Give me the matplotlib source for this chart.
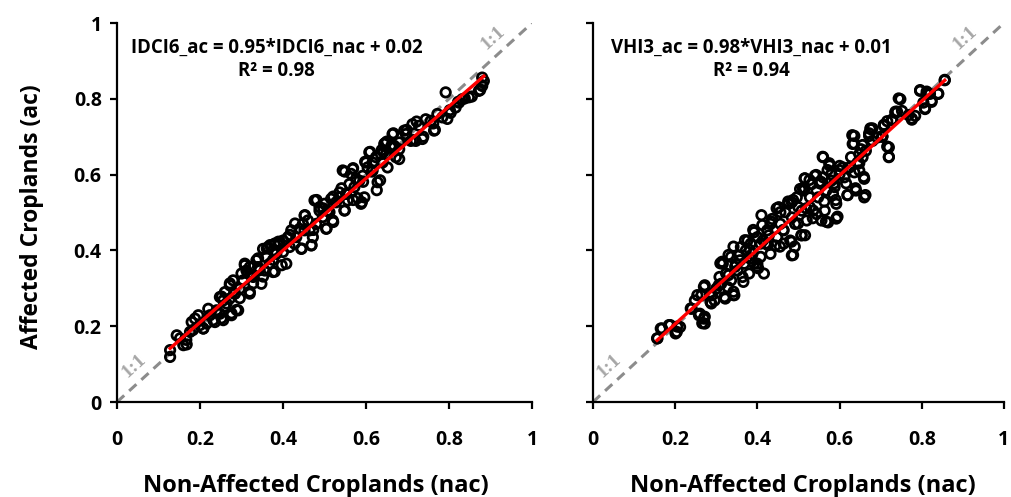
import matplotlib
matplotlib.use("Agg")
import matplotlib.pyplot as plt
import numpy as np

# ticks
TICKS = [0, 0.2, 0.4, 0.6, 0.8, 1.0]
TICK_LABELS = ["0", "0.2", "0.4", "0.6", "0.8", "1"]

# IDCI6 panel: non-affected (x) vs affected (y)
idci_nac = [0.128, 0.128, 0.152, 0.168, 0.180, 0.196, 0.176, 0.208, 0.216, 0.220,
            0.236, 0.248, 0.256, 0.276, 0.292, 0.272, 0.248, 0.264, 0.272, 0.280,
            0.296, 0.320, 0.312, 0.308, 0.328, 0.336, 0.348, 0.352, 0.356, 0.368,
            0.376, 0.380, 0.384, 0.400, 0.408, 0.416, 0.420, 0.432, 0.444, 0.448,
            0.452, 0.464, 0.468, 0.472, 0.476, 0.488, 0.496, 0.504, 0.512, 0.516,
            0.520, 0.536, 0.544, 0.548, 0.556, 0.564, 0.568, 0.576, 0.580, 0.588,
            0.596, 0.600, 0.608, 0.616, 0.628, 0.636, 0.644, 0.652, 0.660, 0.664,
            0.672, 0.680, 0.680, 0.692, 0.712, 0.720, 0.736, 0.756, 0.764, 0.784,
            0.792, 0.796, 0.804, 0.824, 0.848, 0.872, 0.880, 0.880, 0.884,
            0.160, 0.167, 0.183, 0.208, 0.232, 0.240, 0.252, 0.252, 0.260, 0.272,
            0.276, 0.288, 0.284, 0.296, 0.308, 0.316, 0.320, 0.328, 0.340, 0.344,
            0.352, 0.361, 0.376, 0.380, 0.389, 0.397,
            0.369, 0.389, 0.417, 0.429, 0.445, 0.453, 0.469, 0.473, 0.481, 0.497,
            0.505, 0.521, 0.521, 0.541, 0.549, 0.549, 0.569, 0.569, 0.590, 0.593,
            0.598, 0.610, 0.614, 0.626, 0.634, 0.642, 0.650,
            0.638, 0.646, 0.666, 0.662, 0.698, 0.714, 0.722, 0.738, 0.762, 0.766,
            0.802, 0.822, 0.838, 0.855, 0.875, 0.879,
            0.144, 0.188, 0.200, 0.224, 0.240, 0.256, 0.260, 0.284, 0.300, 0.304,
            0.320, 0.324, 0.340, 0.360, 0.364, 0.376, 0.392, 0.400, 0.412, 0.428,
            0.440, 0.452, 0.460, 0.480, 0.488, 0.500, 0.508, 0.528, 0.536, 0.552,
            0.560, 0.572, 0.584, 0.592, 0.604, 0.616, 0.624, 0.640, 0.648, 0.668,
            0.680, 0.696, 0.708, 0.728, 0.744, 0.772, 0.816, 0.832]
idci_ac = [0.119, 0.137, 0.168, 0.152, 0.211, 0.229, 0.185, 0.194, 0.207, 0.246,
           0.211, 0.233, 0.216, 0.229, 0.242, 0.273, 0.277, 0.260, 0.308, 0.321,
           0.299, 0.286, 0.347, 0.365, 0.330, 0.374, 0.312, 0.404, 0.347, 0.365,
           0.343, 0.418, 0.391, 0.426, 0.365, 0.409, 0.453, 0.435, 0.404, 0.470,
           0.492, 0.453, 0.413, 0.435, 0.532, 0.514, 0.488, 0.457, 0.501, 0.536,
           0.479, 0.553, 0.611, 0.505, 0.532, 0.602, 0.615, 0.589, 0.538, 0.523,
           0.540, 0.632, 0.659, 0.611, 0.580, 0.654, 0.681, 0.619, 0.672, 0.707,
           0.646, 0.641, 0.667, 0.716, 0.733, 0.689, 0.694, 0.742, 0.716, 0.751,
           0.817, 0.747, 0.763, 0.790, 0.804, 0.821, 0.834, 0.856, 0.847,
           0.150, 0.164, 0.190, 0.194, 0.216, 0.238, 0.221, 0.278, 0.252, 0.313,
           0.234, 0.243, 0.286, 0.274, 0.361, 0.339, 0.291, 0.313, 0.379, 0.348,
           0.331, 0.405, 0.375, 0.344, 0.414, 0.361,
           0.414, 0.423, 0.441, 0.471, 0.405, 0.493, 0.414, 0.454, 0.533, 0.511,
           0.458, 0.542, 0.475, 0.564, 0.506, 0.608, 0.617, 0.533, 0.527, 0.581,
           0.634, 0.660, 0.608, 0.559, 0.585, 0.660, 0.687,
           0.665, 0.683, 0.709, 0.678, 0.718, 0.691, 0.740, 0.700, 0.735, 0.718,
           0.770, 0.792, 0.801, 0.806, 0.823, 0.836,
           0.176, 0.220, 0.203, 0.229, 0.242, 0.268, 0.290, 0.286, 0.339, 0.321,
           0.356, 0.334, 0.356, 0.382, 0.409, 0.400, 0.418, 0.396, 0.435, 0.418,
           0.457, 0.453, 0.479, 0.470, 0.505, 0.523, 0.505, 0.527, 0.540, 0.549,
           0.575, 0.567, 0.584, 0.597, 0.619, 0.632, 0.646, 0.632, 0.654, 0.676,
           0.685, 0.707, 0.689, 0.729, 0.746, 0.760, 0.777, 0.799]

# VHI3 panel
vhi_nac = [0.156, 0.168, 0.188, 0.204, 0.212, 0.240, 0.260, 0.272, 0.272, 0.264,
           0.272, 0.288, 0.300, 0.308, 0.316, 0.320, 0.336, 0.336, 0.344, 0.352,
           0.360, 0.368, 0.376, 0.380, 0.388, 0.392, 0.400, 0.408, 0.412, 0.416,
           0.424, 0.432, 0.436, 0.448, 0.452, 0.456, 0.464, 0.468, 0.480, 0.484,
           0.484, 0.492, 0.500, 0.504, 0.508, 0.516, 0.516, 0.520, 0.528, 0.536,
           0.540, 0.544, 0.552, 0.556, 0.560, 0.564, 0.572, 0.576, 0.580, 0.584,
           0.592, 0.592, 0.600, 0.608, 0.616, 0.620, 0.628, 0.632, 0.636, 0.640,
           0.648, 0.652, 0.656, 0.660, 0.660, 0.672, 0.676, 0.704, 0.708, 0.720,
           0.720, 0.728, 0.736, 0.748, 0.776, 0.796, 0.808, 0.812, 0.824, 0.840,
           0.856,
           0.157, 0.165, 0.185, 0.205, 0.201, 0.238, 0.258, 0.266, 0.270, 0.270,
           0.254, 0.286, 0.290, 0.306, 0.314, 0.322, 0.330, 0.342, 0.346, 0.366,
           0.382, 0.402,
           0.310, 0.330, 0.342, 0.342, 0.358, 0.370, 0.382, 0.390, 0.399, 0.410,
           0.414, 0.426, 0.434, 0.447, 0.455, 0.463, 0.475, 0.483, 0.487, 0.491,
           0.499, 0.507, 0.515, 0.519, 0.527, 0.535, 0.551, 0.563, 0.567,
           0.487, 0.511, 0.515, 0.543, 0.555, 0.559, 0.571, 0.575, 0.587, 0.591,
           0.595, 0.599, 0.619, 0.631, 0.635, 0.639, 0.648, 0.656, 0.659, 0.663,
           0.672, 0.680, 0.708, 0.704, 0.716, 0.720, 0.728, 0.740,
           0.675, 0.704, 0.708, 0.728, 0.736, 0.744, 0.768, 0.776, 0.796, 0.808,
           0.812, 0.824, 0.840, 0.856,
           0.248, 0.284, 0.296, 0.312, 0.324, 0.328, 0.348, 0.356, 0.364, 0.372,
           0.384, 0.392, 0.400, 0.408, 0.420, 0.428, 0.432, 0.444, 0.456, 0.464,
           0.476, 0.484, 0.496, 0.508, 0.512, 0.528, 0.532, 0.544, 0.548, 0.560,
           0.568, 0.580, 0.588, 0.600, 0.612, 0.624, 0.636, 0.644, 0.648, 0.664,
           0.680, 0.692, 0.716, 0.752, 0.784, 0.804, 0.820]
vhi_ac = [0.168, 0.194, 0.203, 0.185, 0.198, 0.246, 0.233, 0.207, 0.225, 0.282,
          0.308, 0.260, 0.299, 0.330, 0.365, 0.277, 0.321, 0.383, 0.282, 0.347,
          0.409, 0.365, 0.426, 0.339, 0.391, 0.448, 0.365, 0.418, 0.467, 0.339,
          0.453, 0.391, 0.483, 0.435, 0.514, 0.470, 0.418, 0.501, 0.426, 0.387,
          0.527, 0.470, 0.514, 0.562, 0.440, 0.590, 0.440, 0.479, 0.540, 0.505,
          0.597, 0.558, 0.577, 0.479, 0.646, 0.505, 0.474, 0.624, 0.584, 0.549,
          0.523, 0.484, 0.601, 0.619, 0.577, 0.546, 0.646, 0.681, 0.702, 0.558,
          0.611, 0.667, 0.646, 0.589, 0.540, 0.702, 0.720, 0.702, 0.729, 0.672,
          0.646, 0.745, 0.763, 0.799, 0.745, 0.821, 0.773, 0.813, 0.795, 0.813,
          0.849,
          0.168, 0.194, 0.203, 0.199, 0.181, 0.247, 0.229, 0.208, 0.220, 0.304,
          0.282, 0.264, 0.282, 0.308, 0.370, 0.273, 0.335, 0.282, 0.357, 0.317,
          0.379, 0.353,
          0.366, 0.388, 0.410, 0.291, 0.374, 0.427, 0.401, 0.454, 0.357, 0.493,
          0.427, 0.414, 0.476, 0.511, 0.410, 0.454, 0.529, 0.423, 0.388, 0.410,
          0.471, 0.440, 0.564, 0.511, 0.586, 0.485, 0.581, 0.529, 0.476,
          0.533, 0.564, 0.590, 0.599, 0.581, 0.647, 0.612, 0.630, 0.577, 0.533,
          0.489, 0.612, 0.546, 0.704, 0.682, 0.564, 0.630, 0.678, 0.594, 0.546,
          0.709, 0.722, 0.731, 0.700, 0.674, 0.647, 0.744, 0.766,
          0.722, 0.700, 0.731, 0.744, 0.766, 0.801, 0.757, 0.748, 0.823, 0.775,
          0.819, 0.792, 0.814, 0.850,
          0.268, 0.286, 0.268, 0.312, 0.339, 0.303, 0.365, 0.387, 0.330, 0.400,
          0.418, 0.365, 0.435, 0.383, 0.418, 0.440, 0.470, 0.413, 0.501, 0.453,
          0.523, 0.487, 0.540, 0.505, 0.558, 0.514, 0.575, 0.496, 0.540, 0.593,
          0.558, 0.601, 0.567, 0.623, 0.593, 0.619, 0.606, 0.632, 0.654, 0.663,
          0.689, 0.698, 0.741, 0.768, 0.755, 0.790, 0.813]

# regression lines (slope, intercept, x range)
idci_fit = (0.95, 0.02)
idci_range = [0.128, 0.884]
vhi_fit = (0.98, 0.01)
vhi_range = [0.156, 0.856]

idci_eq = "IDCI6_ac = 0.95*IDCI6_nac + 0.02\nR² = 0.98"
vhi_eq = "VHI3_ac = 0.98*VHI3_nac + 0.01\nR² = 0.94"

FONT = ["Open Sans", "DejaVu Sans"]
plt.rcParams["font.family"] = FONT

fig = plt.figure(figsize=(10.11, 4.97), dpi=100)
ax1 = fig.add_axes([0.1157, 0.1911, 0.4105, 0.7626])
ax2 = fig.add_axes([0.5865, 0.1911, 0.4065, 0.7626])


def panel(ax, xs, ys, fit, xr, eq, show_ylabels, xlab_pos):
    ax.plot([0, 1], [0, 1], color="#8c8c8c", lw=2.2, ls=(0, (3.2, 2.2)), zorder=2)
    ax.scatter(xs, ys, s=46, facecolors="none", edgecolors="black",
               linewidths=2.0, zorder=3)
    xr = np.array(xr)
    ax.plot(xr, fit[0] * xr + fit[1], color="#ff0000", lw=2.4, zorder=4)
    ax.set_xlim(0, 1)
    ax.set_ylim(0, 1)
    for s in ["top", "right"]:
        ax.spines[s].set_visible(False)
    for s in ["left", "bottom"]:
        ax.spines[s].set_linewidth(1.6)
    ax.set_xticks(TICKS)
    ax.set_xticklabels(TICK_LABELS, fontsize=14, fontweight="bold")
    ax.set_yticks(TICKS)
    if show_ylabels:
        ax.set_yticklabels(TICK_LABELS, fontsize=14, fontweight="bold")
    else:
        ax.set_yticklabels([])
    ax.tick_params(axis="x", length=5, width=1.6, pad=15)
    ax.tick_params(axis="y", length=5, width=1.6, pad=6)
    ax.text(0.385, 0.905, eq, transform=ax.transAxes, ha="center", va="center",
            fontsize=13.4, fontweight="bold", linespacing=1.2)
    ang = np.degrees(np.arctan(379 / 415))
    for (tx, ty) in [(0.905, 0.96), (0.04, 0.095)]:
        ax.text(tx, ty, "1:1", color="#a6a6a6", fontsize=14, rotation=ang,
                ha="center", va="center", family="Liberation Serif",
                fontweight="bold", transform=ax.transAxes)
    ax.set_xlabel("Non-Affected Croplands (nac)", fontsize=17, fontweight="bold")
    ax.xaxis.set_label_coords(*xlab_pos)


panel(ax1, idci_nac, idci_ac, idci_fit, idci_range, idci_eq, True, (0.48, -0.19))
panel(ax2, vhi_nac, vhi_ac, vhi_fit, vhi_range, vhi_eq, False, (0.51, -0.19))
ax1.set_ylabel("Affected Croplands (ac)", fontsize=16.5, fontweight="bold")
ax1.yaxis.set_label_coords(-0.175, 0.49)

fig.savefig("out.png", dpi=100)
